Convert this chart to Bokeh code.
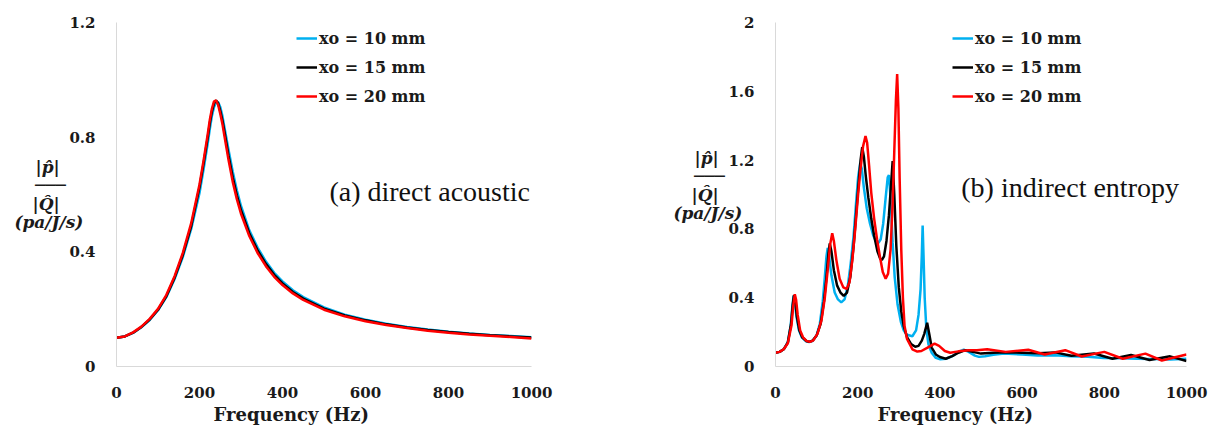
from bokeh.plotting import figure
from bokeh.models import Range1d, FixedTicker, Label, Legend, LegendItem, Title
from bokeh.layouts import row
from bokeh.embed import file_html
from bokeh.resources import INLINE

# ---------------- data ----------------
x_ticks = [0, 200, 400, 600, 800, 1000]
x_tick_labels = ["0", "200", "400", "600", "800", "1000"]
ya_ticks = [0, 0.4, 0.8, 1.2]
ya_tick_labels = ["0", "0.4", "0.8", "1.2"]
yb_ticks = [0, 0.4, 0.8, 1.2, 1.6, 2]
yb_tick_labels = ["0", "0.4", "0.8", "1.2", "1.6", "2"]
series_names = ["xo = 10 mm", "xo = 15 mm", "xo = 20 mm"]
x_title = "Frequency (Hz)"
NB = "\u00a0"
y_title_lines = ["|p\u0302|" + NB * 4, "\u2500\u2500\u2500" + NB * 3, "|Q\u0302|" + NB * 4, "(pa/J/s)"]
y_title = "\n".join(y_title_lines)

# (a) direct acoustic
freq_a = [0, 20, 40, 60, 80, 100, 120, 140, 160, 180, 200, 210, 220, 225, 230, 235, 240, 245, 250,
          255, 260, 270, 280, 290, 300, 320, 340, 360, 380, 400, 425, 450, 500, 550, 600, 650, 700,
          750, 800, 850, 900, 950, 1000]
a_10 = [0.100, 0.105, 0.117, 0.137, 0.162, 0.196, 0.242, 0.305, 0.383, 0.48, 0.605, 0.69, 0.78, 0.83,
        0.875, 0.905, 0.922, 0.922, 0.905, 0.875, 0.835, 0.755, 0.68, 0.615, 0.56, 0.475, 0.415,
        0.366, 0.327, 0.297, 0.266, 0.242, 0.206, 0.181, 0.163, 0.149, 0.138, 0.129, 0.121, 0.115,
        0.110, 0.106, 0.102]
a_15 = [0.100, 0.105, 0.118, 0.138, 0.164, 0.198, 0.245, 0.31, 0.39, 0.49, 0.625, 0.71, 0.80, 0.85,
        0.89, 0.918, 0.928, 0.918, 0.892, 0.86, 0.82, 0.735, 0.66, 0.597, 0.545, 0.465, 0.405, 0.358,
        0.32, 0.29, 0.26, 0.237, 0.202, 0.178, 0.161, 0.147, 0.136, 0.127, 0.120, 0.114, 0.109, 0.105,
        0.101]
a_20 = [0.100, 0.105, 0.119, 0.139, 0.166, 0.201, 0.249, 0.315, 0.397, 0.50, 0.635, 0.72, 0.812, 0.862,
        0.9, 0.925, 0.928, 0.912, 0.882, 0.848, 0.805, 0.72, 0.645, 0.584, 0.533, 0.455, 0.396, 0.35,
        0.313, 0.284, 0.255, 0.232, 0.198, 0.175, 0.158, 0.145, 0.134, 0.125, 0.118, 0.112, 0.107,
        0.103, 0.098]

# (b) indirect entropy
f_b10 = [0, 10, 20, 30, 37, 41, 44, 47, 51, 57, 64, 74, 82, 90, 100, 108, 115, 120, 124, 127, 130,
         136, 144, 152, 160, 168, 176, 183, 190, 196, 201, 206, 210, 215, 222, 230, 238, 245, 250,
         256, 262, 268, 273, 276, 280, 285, 290, 297, 305, 312, 320, 333, 342, 348, 353, 356, 358,
         360, 363, 367, 372, 380, 390, 401, 415, 430, 445, 458, 470, 485, 495, 510, 530, 556, 600,
         637, 680, 718, 760, 799, 840, 880, 920, 961, 1000]
b_10 = [0.08, 0.085, 0.10, 0.14, 0.24, 0.35, 0.41, 0.38, 0.29, 0.21, 0.17, 0.147, 0.142, 0.148, 0.18,
        0.25, 0.38, 0.52, 0.64, 0.69, 0.65, 0.53, 0.43, 0.39, 0.373, 0.39, 0.47, 0.60, 0.76, 0.95,
        1.10, 1.18, 1.15, 1.04, 0.92, 0.83, 0.76, 0.725, 0.717, 0.74, 0.83, 0.98, 1.10, 1.113, 0.98,
        0.72, 0.52, 0.36, 0.26, 0.21, 0.185, 0.176, 0.21, 0.30, 0.45, 0.65, 0.82, 0.66, 0.40, 0.22,
        0.13, 0.08, 0.05, 0.042, 0.045, 0.06, 0.085, 0.098, 0.085, 0.063, 0.056, 0.06, 0.068, 0.075,
        0.07, 0.064, 0.066, 0.06, 0.056, 0.05, 0.048, 0.045, 0.043, 0.04, 0.045]

f_b15 = [0, 10, 20, 30, 38, 42, 45, 48, 52, 58, 65, 75, 82, 90, 100, 110, 118, 124, 129, 132, 136,
         142, 150, 158, 166, 174, 182, 190, 196, 202, 207, 211, 215, 220, 226, 233, 240, 248, 255,
         259, 264, 270, 276, 281, 285, 289, 294, 300, 306, 312, 320, 330, 340, 348, 356, 362, 369,
         374, 380, 390, 400, 414, 430, 445, 462, 480, 500, 530, 560, 600, 640, 680, 720, 775, 820,
         865, 910, 960, 1000]
b_15 = [0.08, 0.085, 0.10, 0.14, 0.25, 0.36, 0.415, 0.38, 0.29, 0.21, 0.17, 0.148, 0.143, 0.15, 0.18,
        0.25, 0.38, 0.52, 0.66, 0.715, 0.67, 0.56, 0.47, 0.43, 0.41, 0.43, 0.52, 0.70, 0.88, 1.06,
        1.20, 1.275, 1.22, 1.10, 0.98, 0.86, 0.76, 0.67, 0.625, 0.62, 0.64, 0.73, 0.88, 1.05, 1.195,
        1.0, 0.70, 0.46, 0.32, 0.235, 0.17, 0.13, 0.115, 0.12, 0.15, 0.19, 0.254, 0.19, 0.11, 0.07,
        0.055, 0.045, 0.06, 0.08, 0.095, 0.085, 0.075, 0.08, 0.083, 0.08, 0.077, 0.082, 0.063, 0.076,
        0.045, 0.067, 0.038, 0.059, 0.032]

f_b20 = [0, 10, 20, 30, 39, 43, 47, 50, 54, 60, 67, 76, 84, 92, 102, 112, 120, 127, 133, 138, 142,
         148, 156, 165, 173, 180, 187, 194, 201, 207, 213, 219, 223, 228, 233, 240, 247, 254, 261,
         268, 274, 280, 285, 289, 293, 296, 299, 302, 306, 310, 314, 320, 333, 345, 355, 370, 387,
         398, 412, 425, 445, 470, 490, 515, 560, 615, 655, 705, 745, 800, 845, 900, 940, 1000]
b_20 = [0.08, 0.085, 0.10, 0.135, 0.24, 0.35, 0.42, 0.39, 0.30, 0.21, 0.17, 0.148, 0.143, 0.152, 0.19,
        0.27, 0.40, 0.56, 0.71, 0.775, 0.73, 0.62, 0.51, 0.46, 0.451, 0.49, 0.62, 0.80, 1.00, 1.15,
        1.28, 1.34, 1.30, 1.16, 1.01, 0.86, 0.74, 0.64, 0.55, 0.51, 0.54, 0.68, 0.95, 1.25, 1.55,
        1.70, 1.50, 1.10, 0.68, 0.40, 0.235, 0.16, 0.10, 0.087, 0.09, 0.11, 0.133, 0.12, 0.09, 0.08,
        0.088, 0.095, 0.095, 0.10, 0.085, 0.097, 0.07, 0.095, 0.058, 0.085, 0.045, 0.075, 0.035, 0.07]

colors = ["#00B0F0", "#000000", "#FF0000"]

SERIF = "Liberation Serif"
BSERIF = "DejaVu Serif"
TXT = "#1a1a1a"


def make_panel(width, border_left, border_right, ymax, yticks, ylabels, xs, ys, legend_x,
               title_text, title_x, title_y, ytitle, xtitle_offset):
    p = figure(width=width, height=425, output_backend="svg", toolbar_location=None,
               x_range=Range1d(0, 1000), y_range=Range1d(0, ymax),
               min_border_left=border_left, min_border_right=border_right,
               min_border_top=22, min_border_bottom=58)
    p.outline_line_color = None
    p.grid.visible = False
    for ax, ticks, labels in ((p.xaxis[0], x_ticks, x_tick_labels), (p.yaxis[0], yticks, ylabels)):
        ax.ticker = FixedTicker(ticks=ticks)
        ax.major_label_overrides = {t: l for t, l in zip(ticks, labels)}
        ax.axis_line_color = "#d9d9d9"
        ax.axis_line_width = 1
        ax.major_tick_line_color = None
        ax.minor_tick_line_color = None
        ax.major_label_text_font = BSERIF
        ax.major_label_text_font_style = "bold"
        ax.major_label_text_font_size = "15px"
        ax.major_label_text_color = TXT
    p.xaxis.major_label_standoff = 14
    p.yaxis.major_label_standoff = 15

    # x-axis title, placed below the axis and shifted like the reference
    p.add_layout(Title(text=x_title, align="left", offset=xtitle_offset, standoff=2,
                       text_font=BSERIF, text_font_style="bold", text_font_size="18px",
                       text_color=TXT), "below")

    ya = p.yaxis[0]
    ya.axis_label = ytitle
    ya.axis_label_orientation = "horizontal"
    ya.axis_label_text_font = BSERIF
    ya.axis_label_text_font_style = "bold italic"
    ya.axis_label_text_font_size = "17px"
    ya.axis_label_text_line_height = 0.92
    ya.axis_label_text_color = TXT
    ya.axis_label_standoff = -17

    items = []
    for x, y, c, name in zip(xs, ys, colors, series_names):
        r = p.line(x, y, line_color=c, line_width=2.5)
        items.append(LegendItem(label=name, renderers=[r]))
    legend = Legend(items=items, location=(legend_x, 260), glyph_width=21, glyph_height=20,
                    label_height=20, label_standoff=2, padding=0, spacing=9, margin=0,
                    label_text_font=BSERIF, label_text_font_style="bold",
                    label_text_font_size="16px", label_text_color=TXT,
                    border_line_alpha=0, background_fill_alpha=0)
    p.add_layout(legend)

    p.add_layout(Label(x=title_x, y=title_y, text=title_text, text_font=SERIF,
                       text_font_size="28px", text_baseline="middle", text_align="left",
                       text_color="#111111"))
    return p


pa = make_panel(600, 116, 69, 1.2, ya_ticks, ya_tick_labels,
                [freq_a, freq_a, freq_a], [a_10, a_15, a_20], 180,
                "(a) direct acoustic", 513, 0.609, y_title, 97)
pb = make_panel(612, 175, 26, 2, yb_ticks, yb_tick_labels,
                [f_b10, f_b15, f_b20], [b_10, b_15, b_20], 177,
                "(b) indirect entropy", 452, 1.038, y_title + "\n" + NB, 102)

layout = row(pa, pb)
open("out.html", "w").write(file_html(layout, INLINE))
